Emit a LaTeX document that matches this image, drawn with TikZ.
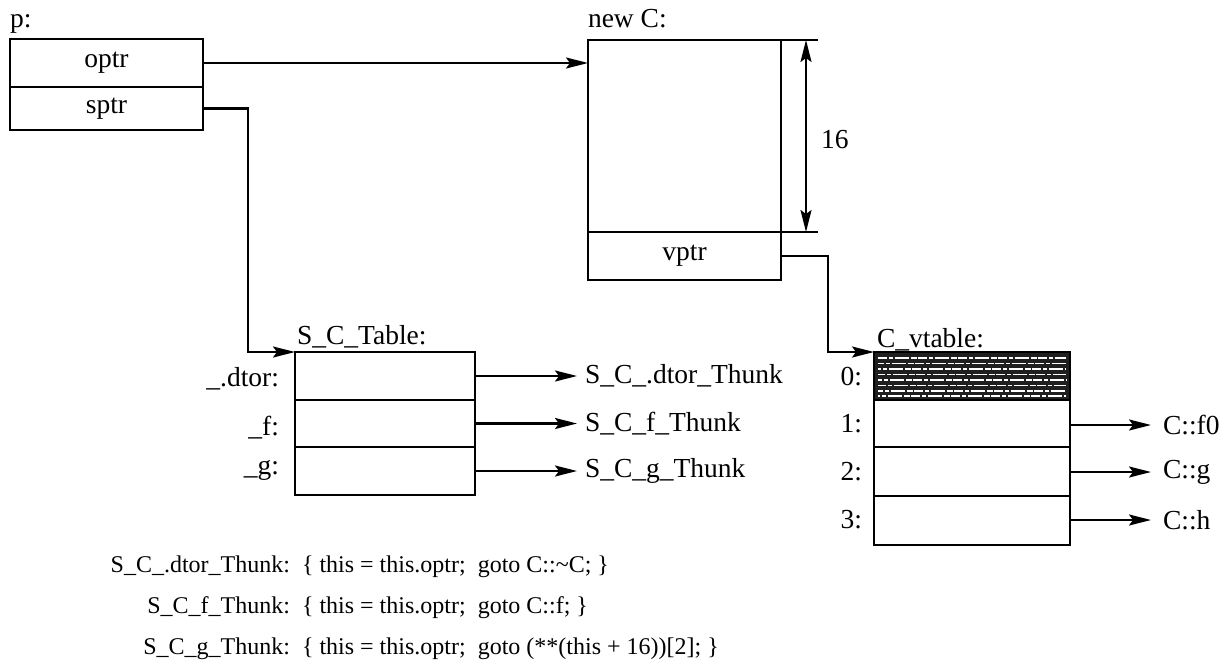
\documentclass[tikz,border=0pt]{standalone}
\usepackage{fontspec}
\setmainfont{Liberation Serif}
\usetikzlibrary{arrows.meta}
\newcommand\mylabfont{\fontsize{27.5}{32}\selectfont}
\newcommand\mycodefont{\fontsize{24}{28}\selectfont}
\begin{document}
\begin{tikzpicture}[x=1pt,y=-1pt,
  box/.style={draw, line width=2.8pt, inner sep=0pt, outer sep=0pt, font=\mylabfont},
  tip/.tip={Stealth[length=22pt,width=11pt,inset=4pt]},
  arr/.style={line width=2.2pt, -tip},
  dimarr/.style={line width=2.2pt, tip-tip},
  plain/.style={line width=2.2pt},
  lbl/.style={inner sep=0pt, outer sep=0pt, font=\mylabfont},
  code/.style={inner sep=0pt, outer sep=0pt, font=\mycodefont},
  hatch/.style={white, line width=1.3pt}
]
\useasboundingbox[fill=white] (0,0) rectangle (1230,669);

% ---- p ----
\node[lbl, anchor=base west] (plab) at (10,28) {p:};
\node[box, minimum width=193pt, minimum height=48pt] (optr) at (106.5,63) {optr};
\node[box, minimum width=193pt, minimum height=43pt] (sptr) at (106.5,108.5) {sptr};

% ---- new C ----
\node[lbl, anchor=base west] (nclab) at (588,28) {new C:};
\node[box, minimum width=193pt, minimum height=192pt] (body) at (684.5,136) {};
\node[box, minimum width=193pt, minimum height=48pt] (vptr) at (684.5,256) {vptr};
\draw[plain] (body.north east) -- ++(37,0);
\draw[plain] (body.south east) -- ++(37,0);
\draw[dimarr] ([xshift=25pt]body.north east) -- ([xshift=25pt]body.south east);
\node[lbl, anchor=west] (sixteen) at (821,140) {16};

% ---- S_C_Table ----
\node[lbl, anchor=base west] (stlab) at (297,344) {S\_C\_Table:};
\node[box, minimum width=180pt, minimum height=48pt] (dtor) at (385,376) {};
\node[box, minimum width=180pt, minimum height=47pt] (sf) at (385,423.5) {};
\node[box, minimum width=180pt, minimum height=48pt] (sg) at (385,471) {};
\node[lbl, anchor=east] (ldtor) at (279,379) {\_.dtor:};
\node[lbl, anchor=east] (lf) at (279,428) {\_f:};
\node[lbl, anchor=east] (lg) at (279,470) {\_g:};
\node[lbl, anchor=west] (tdtor) at (585,376) {S\_C\_.dtor\_Thunk};
\node[lbl, anchor=west] (tf) at (585,423.5) {S\_C\_f\_Thunk};
\node[lbl, anchor=west] (tg) at (585,471) {S\_C\_g\_Thunk};
\draw[arr, shorten >=8pt] (dtor.east) -- (dtor.east -| tdtor.west);
\draw[arr, shorten >=8pt] (sf.east) -- (sf.east -| tf.west);
\draw[arr, shorten >=8pt] (sg.east) -- (sg.east -| tg.west);

% ---- C_vtable ----
\node[lbl, anchor=base west] (cvlab) at (877,347) {C\_vtable:};
\node[box, minimum width=196pt, minimum height=48pt, fill=black!88] (v0) at (972,376) {};
\foreach \yy/\dp in {358/0, 363.5/3, 369/6, 374.5/2, 380/5, 385.5/1, 391/4, 396/7}{
  \draw[hatch, dash pattern=on 9pt off 2pt on 4pt off 1.5pt on 14pt off 2pt on 6pt off 1.5pt, dash phase=\dp pt]
    (878,\yy) -- (1066,\yy);
}
\node[box, minimum width=196pt, minimum height=47pt] (v1) at (972,423.5) {};
\node[box, minimum width=196pt, minimum height=49pt] (v2) at (972,471.5) {};
\node[box, minimum width=196pt, minimum height=49pt] (v3) at (972,520.5) {};
\node[lbl, anchor=east] (l0) at (862,377) {0:};
\node[lbl, anchor=east] (l1) at (862,424) {1:};
\node[lbl, anchor=east] (l2) at (862,472) {2:};
\node[lbl, anchor=east] (l3) at (862,520) {3:};
\node[lbl, anchor=west] (tf0) at (1163,425) {C::f0};
\node[lbl, anchor=west] (tcg) at (1163,472) {C::g};
\node[lbl, anchor=west] (tch) at (1163,520) {C::h};
\draw[arr, shorten >=12pt] (v1.east |- tf0.west) -- (tf0.west);
\draw[arr, shorten >=12pt] (v2.east |- tcg.west) -- (tcg.west);
\draw[arr, shorten >=12pt] (v3.east |- tch.west) -- (tch.west);

% ---- pointers ----
\draw[arr] (optr.east) -- (optr.east -| body.west);
\draw[arr] (sptr.east) -- ++(45,0) |- (dtor.north west);
\draw[arr] (vptr.east) -- ++(47,0) |- (v0.north west);

% ---- code ----
\node[code, anchor=base east] (c1) at (290,572) {S\_C\_.dtor\_Thunk:};
\node[code, anchor=base west] (c1b) at (c1.base east) {\ \ \{ this = this.optr;\ \ goto C::\textasciitilde C; \}};
\node[code, anchor=base east] (c2) at (290,613) {S\_C\_f\_Thunk:};
\node[code, anchor=base west] (c2b) at (c2.base east) {\ \ \{ this = this.optr;\ \ goto C::f; \}};
\node[code, anchor=base east] (c3) at (290,654) {S\_C\_g\_Thunk:};
\node[code, anchor=base west] (c3b) at (c3.base east) {\ \ \{ this = this.optr;\ \ goto (**(this + 16))[2]; \}};
\end{tikzpicture}
\end{document}
